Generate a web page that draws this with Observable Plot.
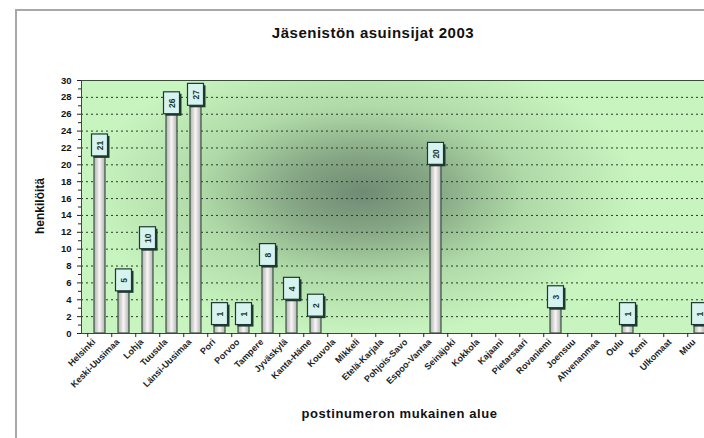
<!DOCTYPE html>
<html><head><meta charset="utf-8">
<script src="https://cdn.jsdelivr.net/npm/d3@7"></script>
<script src="https://cdn.jsdelivr.net/npm/@observablehq/plot@0.6"></script>
<style>
html,body{margin:0;background:#fff;overflow:hidden;}
#wrap{position:relative;width:704px;height:438px;overflow:hidden;font-family:"Liberation Sans",Arial,sans-serif;color:#111;}
#frame{position:absolute;left:15px;top:9px;width:800px;height:500px;border:2px solid #a8a8a8;box-sizing:border-box;}
#title{position:absolute;top:24px;left:0;width:746px;text-align:center;font-weight:bold;font-size:15px;letter-spacing:0.5px;}
#xlabel{position:absolute;top:406px;left:81px;width:637px;text-align:center;font-weight:bold;font-size:13px;letter-spacing:0.6px;}
#ylabel{position:absolute;left:40px;top:206px;transform:translate(-50%,-50%) rotate(-90deg);font-weight:bold;font-size:12px;white-space:nowrap;}
#chart{position:absolute;left:0;top:0;width:730px;height:438px;}
#chart svg{max-width:none !important;width:730px;height:438px;}
</style></head>
<body>
<div id="wrap">
  <div id="frame"></div>
  <div id="chart"></div>
  <div id="title">Jäsenistön asuinsijat 2003</div>
  <div id="ylabel">henkilöitä</div>
  <div id="xlabel">postinumeron mukainen alue</div>
</div>
<script>
const categories = ["Helsinki","Keski-Uusimaa","Lohja","Tuusula","Länsi-Uusimaa","Pori","Porvoo","Tampere","Jyväskylä","Kanta-Häme","Kouvola","Mikkeli","Etelä-Karjala","Pohjois-Savo","Espoo-Vantaa","Seinäjoki","Kokkola","Kajaani","Pietarsaari","Rovaniemi","Joensuu","Ahvenanmaa","Oulu","Kemi","Ulkomaat","Muu"];
const values = [21,5,10,26,27,1,1,8,4,2,0,0,0,0,20,0,0,0,0,3,0,0,1,0,0,1];
const yTickLabels = [0,2,4,6,8,10,12,14,16,18,20,22,24,26,28,30];
const yMinorTicks = [1,3,5,7,9,11,13,15,17,19,21,23,25,27,29];
const gridLines = [2,4,6,8,10,12,14,16,18,20,22,24,26,28];

const data = categories.map((c, i) => ({c, v: values[i]}));
const shown = data.filter(d => d.v > 0);
const boxH = 2.6;

const defs = () => {
  const d = d3.create("svg:defs");
  const rg = d.append("radialGradient").attr("id", "bgGrad")
    .attr("gradientUnits", "userSpaceOnUse")
    .attr("cx", 362).attr("cy", 192).attr("r", 275)
    .attr("gradientTransform", "translate(362,192) scale(1,0.52) translate(-362,-192)");
  [[0, "#6f8c74"], [0.25, "#84a483"], [0.6, "#b0dba8"], [1, "#c8f4c0"]]
    .forEach(([o, c]) => rg.append("stop").attr("offset", o).attr("stop-color", c));
  const lg = d.append("linearGradient").attr("id", "barGrad")
    .attr("x1", 0).attr("x2", 1).attr("y1", 0).attr("y2", 0);
  [[0, "#b4b0b0"], [0.5, "#f6f4f4"], [1, "#b4b0b0"]]
    .forEach(([o, c]) => lg.append("stop").attr("offset", o).attr("stop-color", c));
  return d.node();
};

const chart = Plot.plot({
  width: 730, height: 438,
  marginLeft: 81, marginRight: 12, marginTop: 80, marginBottom: 105,
  style: {fontFamily: '"Liberation Sans", Arial, sans-serif', background: "transparent", color: "#111", maxWidth: "none"},
  x: {domain: categories, paddingInner: 0.56, paddingOuter: 0.28, label: null},
  y: {domain: [0, 30], label: null},
  marks: [
    defs,
    Plot.frame({fill: "url(#bgGrad)", stroke: null}),
    Plot.ruleY(gridLines, {stroke: "#2a3a2a", strokeDasharray: "2,3", strokeWidth: 1}),
    Plot.barY(shown, {x: "c", y: "v", fill: "url(#barGrad)", stroke: "#3a5444", strokeWidth: 1.2}),
    Plot.barY(shown, {x: "c", y1: "v", y2: d => d.v + boxH, insetLeft: -2.5, insetRight: -2.5, dx: 2, dy: 2, fill: "#1e3a30"}),
    Plot.barY(shown, {x: "c", y1: "v", y2: d => d.v + boxH, insetLeft: -2.5, insetRight: -2.5, fill: "#d6f3ef", stroke: "#1e3a30", strokeWidth: 1.2}),
    Plot.text(shown, {x: "c", y: d => d.v + boxH / 2, text: d => String(d.v), rotate: -90, fontSize: 8.5, fontWeight: "bold", fill: "#1e3a30"}),
    Plot.frame({stroke: "#3c4c3c", strokeWidth: 1}),
    Plot.axisY({ticks: yTickLabels, tickSize: 4, tickPadding: 6, fontSize: 9.5, fontWeight: "bold", stroke: "#222"}),
    Plot.axisY({ticks: yMinorTicks, tickSize: 3, tickFormat: () => "", stroke: "#222"}),
    Plot.axisX({tickSize: 4, tickFormat: () => "", dx: -12.25, stroke: "#222"}),
    Plot.axisX({tickSize: 0, tickRotate: -45, tickPadding: 7, dx: -6, fontSize: 9, fontWeight: "bold", fill: "#222"})
  ]
});
document.getElementById("chart").appendChild(chart);
</script>
</body></html>
